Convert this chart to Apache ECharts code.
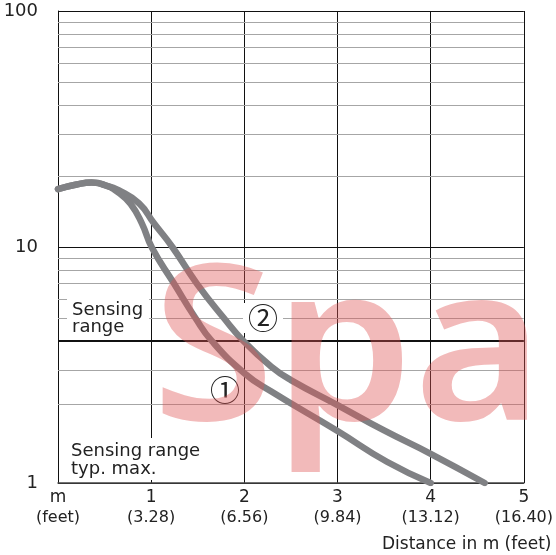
<!DOCTYPE html>
<html>
<head>
<meta charset="utf-8">
<script src="https://cdn.jsdelivr.net/npm/echarts@6/dist/echarts.min.js"></script>
<style>
html,body{margin:0;padding:0;background:#fff;}
#chart{width:556px;height:555px;}
</style>
</head>
<body>
<div id="chart"></div>
<script>
// ---- data ----
const xTickTop = ['m', '1', '2', '3', '4', '5'];
const xTickBottom = ['(feet)', '(3.28)', '(6.56)', '(9.84)', '(13.12)', '(16.40)'];
const yMinorLines = [2.16, 3, 5, 6, 7, 8, 9, 20, 30, 40, 50, 60, 70, 80, 90];
const sensingRangeLine = [4];
// curve ① : [distance m, value]
const curve1 = [[0, 17.6], [0.2, 18.4], [0.36, 18.75], [0.5, 18.3], [0.65, 17.0], [0.78, 15.2], [0.9, 12.6], [1.01, 9.9], [1.245, 7.0], [1.475, 5.0], [1.65, 4.0], [2.0, 2.92], [2.29, 2.44], [3.0, 1.66], [3.53, 1.23], [4.0, 1.0]];
// curve ②
const curve2 = [[0, 17.6], [0.2, 18.4], [0.36, 18.75], [0.5, 18.3], [0.65, 17.4], [0.87, 15.3], [1.03, 12.6], [1.227, 10.0], [1.49, 7.0], [1.78, 5.0], [1.99, 4.0], [2.29, 3.11], [2.5, 2.73], [3.0, 2.14], [3.5, 1.67], [4.0, 1.33], [4.58, 1.0]];

const FONT = '"DejaVu Sans", sans-serif';
const CURVE_COLOR = '#808184';

const chart = echarts.init(document.getElementById('chart'), null, {renderer: 'canvas'});
chart.setOption({
  animation: false,
  backgroundColor: '#fff',
  grid: {left: 58, right: 28, top: 11, bottom: 72, containLabel: false},
  xAxis: {
    type: 'value', min: 0, max: 5, interval: 1,
    axisLine: {show: true, lineStyle: {color: '#444', width: 1.5}},
    axisTick: {show: false},
    splitLine: {show: true, lineStyle: {color: '#111', width: 1}},
    axisLabel: {
      margin: 5,
      formatter: function (v) {
        const i = Math.round(v);
        return '{a|' + xTickTop[i] + '}\n{b|' + xTickBottom[i] + '}';
      },
      rich: {
        a: {fontFamily: FONT, fontSize: 17, lineHeight: 20, color: '#222', align: 'center'},
        b: {fontFamily: FONT, fontSize: 16, lineHeight: 20, color: '#222', align: 'center'}
      }
    }
  },
  yAxis: {
    type: 'log', logBase: 10, min: 1, max: 100,
    axisLine: {show: true, lineStyle: {color: '#111', width: 1}},
    axisTick: {show: false},
    splitLine: {show: true, lineStyle: {color: '#111', width: 1}},
    axisLabel: {margin: 20, fontFamily: FONT, fontSize: 18, color: '#222'}
  },
  series: [
    {
      type: 'line', data: [], z: 1, silent: true,
      markLine: {
        silent: true, symbol: ['none', 'none'], label: {show: false},
        lineStyle: {color: '#a6a6a6', width: 1, type: 'solid'},
        data: yMinorLines.map(v => ({yAxis: v}))
      }
    },
    {
      type: 'line', data: [], z: 2, silent: true,
      markLine: {
        silent: true, symbol: ['none', 'none'], label: {show: false},
        lineStyle: {color: '#111', width: 2.2, type: 'solid'},
        data: sensingRangeLine.map(v => ({yAxis: v}))
      }
    },
    {
      name: '1', type: 'line', data: curve1, smooth: 0.5, showSymbol: false, z: 5,
      lineStyle: {color: CURVE_COLOR, width: 6.5, cap: 'round', join: 'round'}
    },
    {
      name: '2', type: 'line', data: curve2, smooth: 0.5, showSymbol: false, z: 5,
      lineStyle: {color: CURVE_COLOR, width: 6.5, cap: 'round', join: 'round'}
    }
  ],
  graphic: [
    {
      type: 'text', x: 67, y: 294, z: 10,
      style: {
        text: 'Sensing\nrange', font: '18px ' + FONT, fill: '#222', lineHeight: 17,
        backgroundColor: '#fff', padding: [8, 6, 4, 5], verticalAlign: 'top'
      }
    },
    {
      type: 'text', x: 66, y: 438, z: 10,
      style: {
        text: 'Sensing range\ntyp. max.', font: '18px ' + FONT, fill: '#222', lineHeight: 18,
        backgroundColor: '#fff', padding: [4, 4, 2, 5], verticalAlign: 'top'
      }
    },
    {
      type: 'text', x: 263, y: 318, z: 10,
      style: {
        text: '②', font: '30px "Noto Sans CJK JP", ' + FONT, fill: '#222',
        align: 'center', verticalAlign: 'middle', backgroundColor: '#fff', padding: [0, 5]
      }
    },
    {
      type: 'text', x: 225, y: 390, z: 10,
      style: {
        text: '①', font: '30px "Noto Sans CJK JP", ' + FONT, fill: '#222',
        align: 'center', verticalAlign: 'middle'
      }
    },
    {
      type: 'text', x: 382, y: 545, z: 10,
      style: {
        text: 'Distance in m (feet)', font: '17px ' + FONT, fill: '#222',
        align: 'left', verticalAlign: 'middle'
      }
    },
    {
      type: 'text', x: 152, y: 358, z: 100, silent: true, scaleX: 1.02,
      style: {
        text: 'Spa', font: '600 218px "Noto Sans"', fill: 'rgba(223,82,82,0.4)',
        align: 'left', verticalAlign: 'middle'
      }
    }
  ]
});
</script>
</body>
</html>
